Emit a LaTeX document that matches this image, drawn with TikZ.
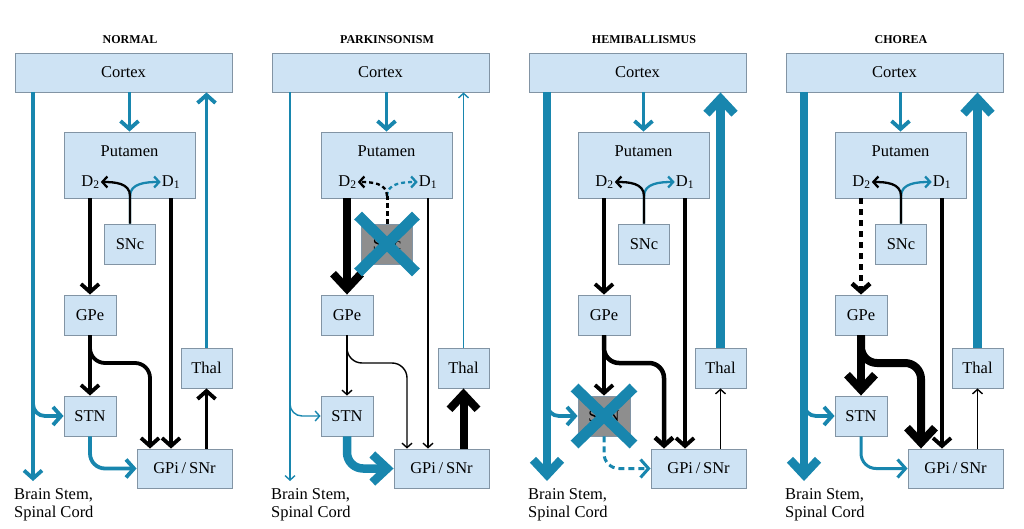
\documentclass[tikz,border=0pt]{standalone}
\usepackage{fontspec}
\setmainfont{Liberation Serif}
\usetikzlibrary{arrows.meta,calc}
\definecolor{blu}{RGB}{24,134,174}
\definecolor{boxfill}{RGB}{206,227,244}
\definecolor{boxline}{RGB}{130,148,164}
\definecolor{grayfill}{RGB}{142,142,142}
\tikzset{
 cell/.style={draw=boxline, fill=boxfill, line width=0.9pt, inner sep=0pt, font=\fontsize{16.5}{18}\selectfont},
 graycell/.style={cell, fill=grayfill},
 lbl/.style={inner sep=1pt, font=\fontsize{16.5}{18}\selectfont},
 ttl/.style={font=\fontsize{12}{14}\selectfont\bfseries},
 hn/.style={-{Straight Barb[length=8pt,width=18pt]}},
 ht/.style={-{Straight Barb[length=4.5pt,width=10pt]}},
 hk/.style={-{Straight Barb[length=15pt,width=28pt]}},
 hs/.style={-{Straight Barb[length=5pt,width=11pt]}},
 bn/.style={draw=blu, line width=3.8pt, hn},
 bt/.style={draw=blu, line width=1.4pt, ht},
 bk/.style={draw=blu, line width=8.5pt, hk},
 kn/.style={draw=black, line width=3.8pt, hn},
 kt/.style={draw=black, line width=1.4pt, ht},
 kk/.style={draw=black, line width=8pt, hk},
 dblu/.style={draw=blu, line width=2.3pt, hs},
 dblk/.style={draw=black, line width=2.3pt, hs},
 xmark/.style={draw=blu, line width=11pt},
}
\newcommand\panelnodes[4]{%
  \node[ttl] (#1t) at (130,40) {#2};
  \node[cell, minimum width=217pt, minimum height=39pt] (#1cx) at (123.5,72.5) {Cortex};
  \node[cell, minimum width=131pt, minimum height=66pt] (#1put) at (129.5,165) {};
  \node[lbl] (#1pl) at (129.5,151) {Putamen};
  \node[lbl] (#1d2) at (90.5,182) {D\textsubscript{2}};
  \node[lbl] (#1d1) at (171,182) {D\textsubscript{1}};
  \node[#3, minimum width=51pt, minimum height=40pt] (#1snc) at (130,244) {SNc};
  \node[cell, minimum width=52pt, minimum height=40pt] (#1gpe) at (90,315) {GPe};
  \node[#4, minimum width=52pt, minimum height=40pt] (#1stn) at (90,416) {STN};
  \node[cell, minimum width=51pt, minimum height=40pt] (#1th) at (206.5,368) {Thal};
  \node[cell, minimum width=95pt, minimum height=39pt] (#1gpi) at (184.5,468.5) {GPi\,/\,SNr};
  \node[lbl, anchor=west, align=left] (#1bst) at (13,505) {Brain Stem,\\Spinal Cord};
  \coordinate (#1bs) at (33,481);
  \coordinate (#1br) at (33,398);
  \coordinate (#1k) at (150,363);
  \coordinate (#1sp) at (130,196);
}
\begin{document}
\begin{tikzpicture}[x=1pt,y=-1pt]
\fill[white] (0,0) rectangle (1024,529);
\useasboundingbox (0,0) rectangle (1024,529);

% ---------- NORMAL ----------
\begin{scope}
\panelnodes{a}{NORMAL}{cell}{cell}
\draw[bn] (acx.south -| abs) -- (abs);
\draw[bn, rounded corners=12pt] (abr) |- (astn.west);
\draw[bn] (aput.north |- acx.south) -- (aput.north);
\draw[bn] (ath.north) -- (ath.north |- acx.south);
\draw[kn] (agpe.north |- aput.south) -- (agpe.north);
\draw[kn] (ad1 |- aput.south) -- (ad1 |- agpi.north);
\draw[kn] (agpe.south) -- (astn.north);
\draw[kn, rounded corners=15pt] (agpe.south) |- (ak) -- (ak |- agpi.north);
\draw[bn, rounded corners=15pt] (astn.south) |- (agpi.west);
\draw[kn] (ath.south |- agpi.north) -- (ath.south);
\draw[dblu] (asnc.north) -- (asp) .. controls +(0,-13) and +(-14,0) .. (ad1.west);
\draw[dblk] (asnc.north) -- (asp) .. controls +(0,-13) and +(14,0) .. (ad2.east);
\end{scope}

% ---------- PARKINSONISM ----------
\begin{scope}[xshift=257pt]
\panelnodes{b}{PARKINSONISM}{graycell}{cell}
\draw[bt] (bcx.south -| bbs) -- (bbs);
\draw[bt, rounded corners=12pt] (bbr) |- (bstn.west);
\draw[bn] (bput.north |- bcx.south) -- (bput.north);
\draw[bt] (bth.north) -- (bth.north |- bcx.south);
\draw[kk] (bgpe.north |- bput.south) -- (bgpe.north);
\draw[kt] (bd1 |- bput.south) -- (bd1 |- bgpi.north);
\draw[kt] (bgpe.south) -- (bstn.north);
\draw[kt, rounded corners=15pt] (bgpe.south) |- (bk) -- (bk |- bgpi.north);
\draw[bk, rounded corners=16pt] (bstn.south) |- (bgpi.west);
\draw[kk] (bth.south |- bgpi.north) -- (bth.south);
\draw[black, line width=3pt, dash pattern=on 5pt off 3pt] (bsnc.north) -- (bsp);
\draw[dblu, dash pattern=on 4pt off 3pt] (bsp) .. controls +(0,-13) and +(-14,0) .. (bd1.west);
\draw[dblk, dash pattern=on 4pt off 3pt] (bsp) .. controls +(0,-13) and +(14,0) .. (bd2.east);
\draw[xmark] ($(bsnc.north west)+(-3,-8)$) -- ($(bsnc.south east)+(3,8)$);
\draw[xmark] ($(bsnc.north east)+(3,-8)$) -- ($(bsnc.south west)+(-3,8)$);
\end{scope}

% ---------- HEMIBALLISMUS ----------
\begin{scope}[xshift=514pt]
\panelnodes{c}{HEMIBALLISMUS}{cell}{graycell}
\draw[bk] (ccx.south -| cbs) -- (cbs);
\draw[bn, rounded corners=12pt] (cbr) |- (cstn.west);
\draw[bn] (cput.north |- ccx.south) -- (cput.north);
\draw[bk] (cth.north) -- (cth.north |- ccx.south);
\draw[kn] (cgpe.north |- cput.south) -- (cgpe.north);
\draw[kn] (cd1 |- cput.south) -- (cd1 |- cgpi.north);
\draw[xmark] ($(cstn.north west)+(-3,-8)$) -- ($(cstn.south east)+(3,8)$);
\draw[xmark] ($(cstn.north east)+(3,-8)$) -- ($(cstn.south west)+(-3,8)$);
\draw[kn] (cgpe.south) -- (cstn.north);
\draw[kn, line width=4.5pt, rounded corners=15pt] (cgpe.south) |- (ck) -- (ck |- cgpi.north);
\draw[bn, line width=3pt, dash pattern=on 6pt off 4pt, rounded corners=15pt] (cstn.south) |- (cgpi.west);
\draw[kt] (cth.south |- cgpi.north) -- (cth.south);
\draw[dblu] (csnc.north) -- (csp) .. controls +(0,-13) and +(-14,0) .. (cd1.west);
\draw[dblk] (csnc.north) -- (csp) .. controls +(0,-13) and +(14,0) .. (cd2.east);
\end{scope}

% ---------- CHOREA ----------
\begin{scope}[xshift=771pt]
\panelnodes{d}{CHOREA}{cell}{cell}
\draw[bk] (dcx.south -| dbs) -- (dbs);
\draw[bn, rounded corners=12pt] (dbr) |- (dstn.west);
\draw[bn] (dput.north |- dcx.south) -- (dput.north);
\draw[bk] (dth.north) -- (dth.north |- dcx.south);
\draw[kn, line width=4.5pt, dash pattern=on 6pt off 5pt] (dgpe.north |- dput.south) -- (dgpe.north);
\draw[kn] (dd1 |- dput.south) -- (dd1 |- dgpi.north);
\draw[kk] (dgpe.south) -- (dstn.north);
\draw[kk, rounded corners=16pt] (dgpe.south) |- (dk) -- (dk |- dgpi.north);
\draw[bn, line width=3pt, rounded corners=15pt] (dstn.south) |- (dgpi.west);
\draw[kt] (dth.south |- dgpi.north) -- (dth.south);
\draw[dblu] (dsnc.north) -- (dsp) .. controls +(0,-13) and +(-14,0) .. (dd1.west);
\draw[dblk] (dsnc.north) -- (dsp) .. controls +(0,-13) and +(14,0) .. (dd2.east);
\end{scope}
\end{tikzpicture}
\end{document}
